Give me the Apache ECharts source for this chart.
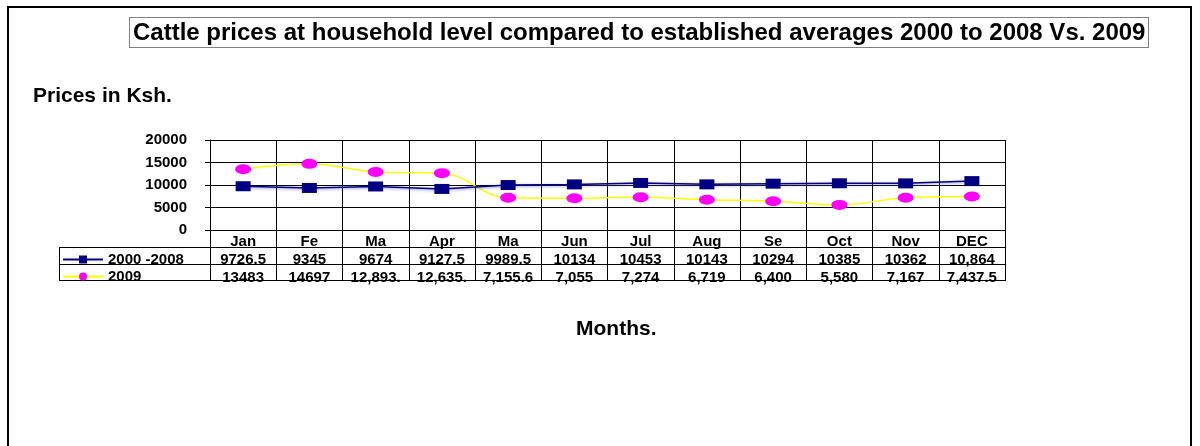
<!DOCTYPE html>
<html>
<head>
<meta charset="utf-8">
<script src="https://cdn.jsdelivr.net/npm/echarts@6/dist/echarts.min.js"></script>
<style>
  html, body { margin: 0; padding: 0; background: #fff; }
  #main { width: 1200px; height: 446px; }
</style>
</head>
<body>
<div id="main"></div>
<script>
// months as printed under the plot (truncated like the original)
var months = ['Jan', 'Fe', 'Ma', 'Apr', 'Ma', 'Jun', 'Jul', 'Aug', 'Se', 'Oct', 'Nov', 'DEC'];
// 2000 - 2008 averages
var avgValues = [9726.5, 9345, 9674, 9127.5, 9989.5, 10134, 10453, 10143, 10294, 10385, 10362, 10864];
// 2009 prices
var y2009Values = [13483, 14697, 12893, 12635, 7155.6, 7055, 7274, 6719, 6400, 5580, 7167, 7437.5];
// data table text, as shown in the table
var avgTable = ['9726.5', '9345', '9674', '9127.5', '9989.5', '10134', '10453', '10143', '10294', '10385', '10362', '10,864'];
var y2009Table = ['13483', '14697', '12,893.', '12,635.', '7,155.6', '7,055', '7,274', '6,719', '6,400', '5,580', '7,167', '7,437.5'];
var yTicks = { min: 0, max: 20000, interval: 5000 };

var FONT = 'Liberation Sans, Arial, sans-serif';
var chart = echarts.init(document.getElementById('main'), null, { renderer: 'canvas' });

var labelStyle = { color: '#000', fontFamily: FONT, fontWeight: 'bold', fontSize: 15 };

function tableAxis(data, margin) {
  return {
    type: 'category',
    gridIndex: 0,
    position: 'bottom',
    offset: 0,
    data: data,
    axisLine: { show: false },
    axisTick: { show: false },
    splitLine: { show: false },
    axisLabel: Object.assign({ interval: 0, margin: margin }, labelStyle)
  };
}

var option = {
  backgroundColor: '#fff',
  animation: false,
  title: {
    text: 'Cattle prices at household level compared to established averages 2000 to 2008 Vs. 2009',
    left: 129,
    top: 17,
    padding: [4, 3, 3, 4],
    borderColor: '#000',
    borderWidth: 1,
    borderType: 'dotted',
    textStyle: { color: '#000', fontFamily: FONT, fontWeight: 'bold', fontSize: 24 }
  },
  legend: [
    {
      left: 62, top: 252, padding: 0,
      itemWidth: 40, itemHeight: 10, itemGap: 0,
      data: ['2000 -2008'],
      textStyle: labelStyle
    },
    {
      left: 62, top: 269, padding: 0,
      itemWidth: 40, itemHeight: 10, itemGap: 0,
      data: ['2009'],
      textStyle: labelStyle
    }
  ],
  grid: { left: 210, top: 140, width: 795, height: 90, containLabel: false },
  xAxis: [
    {
      type: 'category',
      data: months,
      boundaryGap: true,
      axisLine: { show: true, lineStyle: { color: '#000', width: 1 } },
      axisTick: { show: true, interval: 0, length: 51, lineStyle: { color: '#000', width: 1 } },
      splitLine: { show: true, interval: 0, lineStyle: { color: '#000', width: 1 } },
      axisLabel: Object.assign({ interval: 0, margin: 4 }, labelStyle)
    },
    tableAxis(avgTable, 22),
    tableAxis(y2009Table, 40)
  ],
  yAxis: {
    type: 'value',
    min: yTicks.min,
    max: yTicks.max,
    interval: yTicks.interval,
    axisLine: { show: true, lineStyle: { color: '#000', width: 1 } },
    axisTick: { show: true, length: 5, lineStyle: { color: '#000' } },
    splitLine: { show: true, lineStyle: { color: '#000', width: 1 } },
    axisLabel: Object.assign({ margin: 23, padding: [6, 0, 0, 0], formatter: function (v) { return String(v); } }, labelStyle)
  },
  series: [
    {
      name: '2000 -2008',
      type: 'line',
      data: avgValues,
      symbol: 'rect',
      symbolSize: [15, 10],
      itemStyle: { color: '#000080' },
      lineStyle: { color: '#000080', width: 1.5, shadowColor: 'rgba(90,90,200,0.7)', shadowBlur: 3, shadowOffsetY: 1 },
      z: 3
    },
    {
      name: '2009',
      type: 'line',
      data: y2009Values,
      symbol: 'circle',
      symbolSize: [16, 10],
      smooth: 0.4,
      itemStyle: { color: '#FF00FF' },
      lineStyle: { color: '#FFFF00', width: 1.5 },
      z: 2
    }
  ],
  graphic: [
    // outer frame
    { type: 'rect', shape: { x: 8, y: 7, width: 1183, height: 460 }, style: { fill: 'none', stroke: '#000', lineWidth: 2 }, silent: true },
    // data table rules
    { type: 'line', shape: { x1: 59, y1: 247.5, x2: 1005, y2: 247.5 }, style: { stroke: '#000', lineWidth: 1 } },
    { type: 'line', shape: { x1: 59, y1: 264.5, x2: 1005, y2: 264.5 }, style: { stroke: '#000', lineWidth: 1 } },
    { type: 'line', shape: { x1: 59, y1: 280.5, x2: 1005, y2: 280.5 }, style: { stroke: '#000', lineWidth: 1 } },
    { type: 'line', shape: { x1: 59.5, y1: 247.5, x2: 59.5, y2: 280.5 }, style: { stroke: '#000', lineWidth: 1 } },
    // axis captions
    { type: 'text', left: 33, top: 86, style: { text: 'Prices in Ksh.', fill: '#000', font: 'bold 21px ' + FONT } },
    { type: 'text', left: 576, top: 319, style: { text: 'Months.', fill: '#000', font: 'bold 21px ' + FONT } }
  ]
};

chart.setOption(option);
</script>
</body>
</html>
